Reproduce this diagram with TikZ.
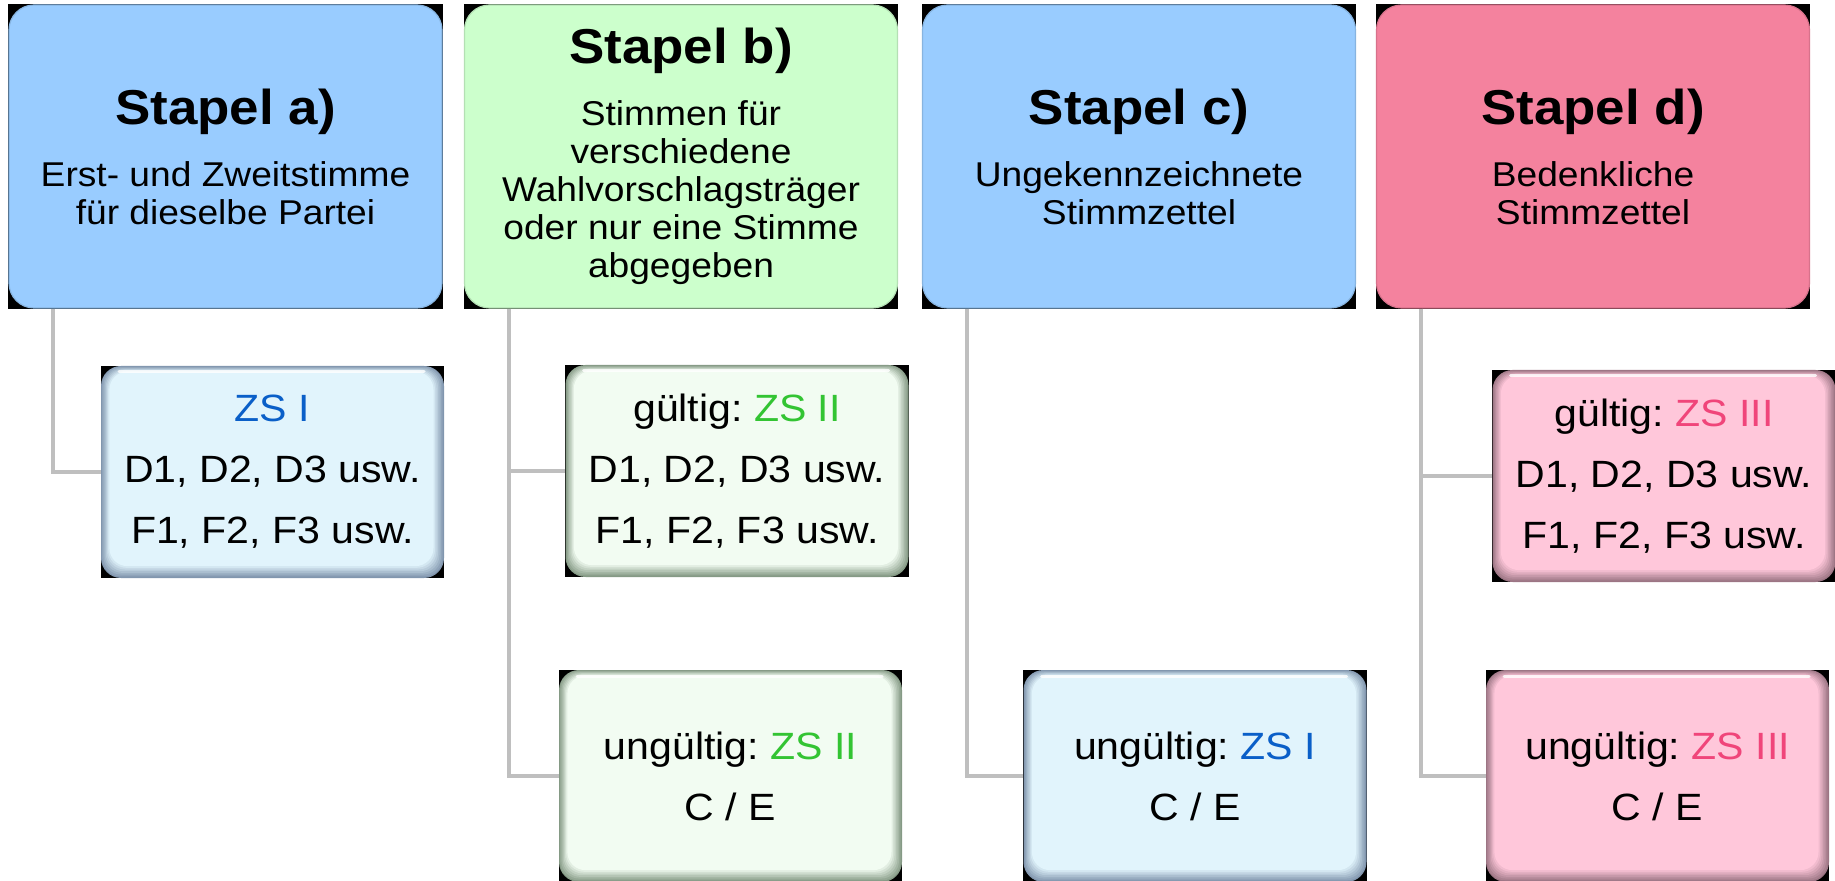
\documentclass[tikz,border=0pt]{standalone}
\usepackage{fontspec}
\setmainfont{Liberation Sans}[FakeStretch=1.08]
\usepackage{xcolor}
\usepackage{tikz}
\usetikzlibrary{backgrounds}
\frenchspacing

\definecolor{blauhell}{HTML}{99CCFF}
\definecolor{gruenhell}{HTML}{CCFFCC}
\definecolor{rosa}{HTML}{F4829E}
\definecolor{blaufeld}{HTML}{E1F4FC}
\definecolor{blaurand}{HTML}{8196AE}
\definecolor{gruenfeld}{HTML}{F2FCF2}
\definecolor{gruenrand}{HTML}{859A85}
\definecolor{rosafeld}{HTML}{FFC7DA}
\definecolor{rosarand}{HTML}{9C7584}
\definecolor{zsblau}{HTML}{0A5FC8}
\definecolor{zsgruen}{HTML}{33C433}
\definecolor{zsrot}{HTML}{F0457A}
\definecolor{liniengrau}{HTML}{BFBFBF}

\newcommand{\kopf}[1]{{\fontsize{24.5}{24.5}\selectfont\bfseries #1}}

\tikzset{
  stapelbox/.style={rounded corners=12.5pt, fill=#1, draw=#1!88!black, line width=0.6pt,
    minimum width=216.5pt, minimum height=151.5pt, inner sep=0pt, align=center,
    font=\fontsize{17.2}{19}\selectfont},
  zettelbox/.style 2 args={rounded corners=10pt, fill=#1,
    minimum width=171.5pt, minimum height=106pt, inner sep=0pt, align=center,
    font=\fontsize{19}{30.5}\selectfont,
    path picture={
      \foreach \k in {1,...,7}{
        \pgfmathsetmacro\p{\k*100/7}
        \fill[#2!\p!#1, rounded corners=9pt]
          ([shift={({\k*0.6pt},{\k*0.85pt})}]path picture bounding box.south west) rectangle
          ([shift={({-\k*0.75pt},{-\k*0.4pt})}]path picture bounding box.north east);
      }
      \draw[white, opacity=0.8, line width=1.5pt, line cap=round]
        ([shift={(9pt,-3pt)}]path picture bounding box.north west) --
        ([shift={(-10pt,-3pt)}]path picture bounding box.north east);
    }},
  linie/.style={draw=liniengrau, line width=2pt}
}

\begin{document}
\begin{tikzpicture}[x=0.5pt, y=-0.5pt]
  \useasboundingbox (0,0) rectangle (1835,881);
  % Stapel
  \node[stapelbox=blauhell] (sa) at (225.5,156.5)
    {\kopf{Stapel a)}\\[12pt]Erst- und Zweitstimme\\für dieselbe Partei};
  \node[stapelbox=gruenhell] (sb) at (681,156.5)
    {\kopf{Stapel b)}\\[12pt]Stimmen für\\verschiedene\\Wahlvorschlagsträger\\oder nur eine Stimme\\abgegeben};
  \node[stapelbox=blauhell] (sc) at (1139,156.5)
    {\kopf{Stapel c)}\\[12pt]Ungekennzeichnete\\Stimmzettel};
  \node[stapelbox=rosa] (sd) at (1593,156.5)
    {\kopf{Stapel d)}\\[12pt]Bedenkliche\\Stimmzettel};
  % Zettel
  \node[zettelbox={blaurand}{blaufeld}] (za1) at (272.5,472)
    {\textcolor{zsblau}{ZS I}\\D1, D2, D3 usw.\\F1, F2, F3 usw.};
  \node[zettelbox={gruenrand}{gruenfeld}] (zb1) at (737,471)
    {gültig: \textcolor{zsgruen}{ZS II}\\D1, D2, D3 usw.\\F1, F2, F3 usw.};
  \node[zettelbox={gruenrand}{gruenfeld}] (zb2) at (730.5,776)
    {ungültig: \textcolor{zsgruen}{ZS II}\\C / E};
  \node[zettelbox={blaurand}{blaufeld}] (zc2) at (1195,776)
    {ungültig: \textcolor{zsblau}{ZS I}\\C / E};
  \node[zettelbox={rosarand}{rosafeld}] (zd1) at (1664,476)
    {gültig: \textcolor{zsrot}{ZS III}\\D1, D2, D3 usw.\\F1, F2, F3 usw.};
  \node[zettelbox={rosarand}{rosafeld}] (zd2) at (1657.5,776)
    {ungültig: \textcolor{zsrot}{ZS III}\\C / E};
  % schwarze Ecken
  \begin{scope}[on background layer]
    \foreach \n in {sa,sb,sc,sd,za1,zb1,zb2,zc2,zd1,zd2}
      \fill[black] (\n.south west) rectangle (\n.north east);
  \end{scope}
  % Linien
  \draw[linie] (sa.south west) ++(45,0) |- (za1.west);
  \draw[linie] (sb.south west) ++(45,0) |- (zb1.west);
  \draw[linie] (sb.south west) ++(45,0) |- (zb2.west);
  \draw[linie] (sc.south west) ++(45,0) |- (zc2.west);
  \draw[linie] (sd.south west) ++(45,0) |- (zd1.west);
  \draw[linie] (sd.south west) ++(45,0) |- (zd2.west);
\end{tikzpicture}
\end{document}
